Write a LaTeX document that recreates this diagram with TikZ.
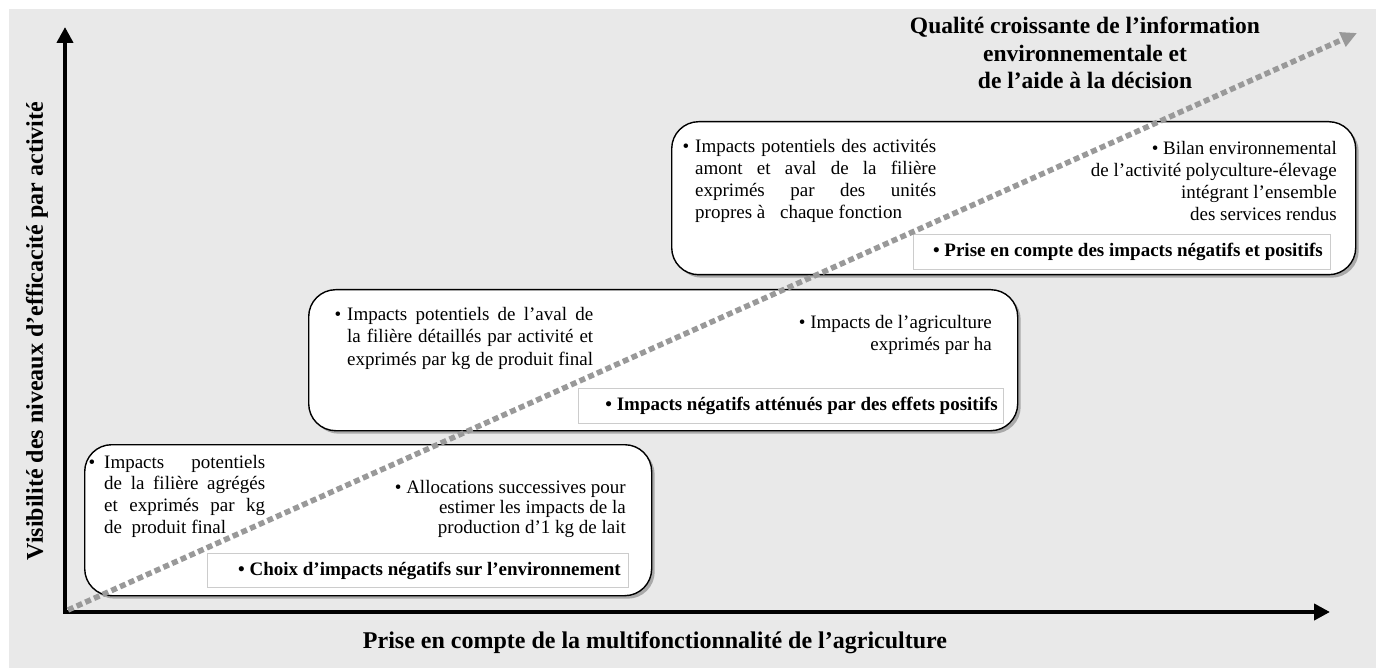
\documentclass[tikz,border=0pt]{standalone}
\usepackage{fontspec}
\setmainfont{Liberation Serif}
\usetikzlibrary{arrows.meta,shadows}
\definecolor{bggray}{HTML}{E9E9E9}
\definecolor{dotgray}{HTML}{999999}
\definecolor{subline}{HTML}{CCCCCC}
\tikzset{
  bigbox/.style={draw=black, line width=1.4pt, fill=white, rounded corners=27pt, inner sep=0pt, anchor=north west,
    drop shadow={shadow xshift=3pt, shadow yshift=-3pt, fill=black!40, opacity=0.8}},
  subbox/.style={draw=subline, line width=1pt, fill=white, inner sep=0pt, anchor=north west},
  axisline/.style={line width=4pt, line join=miter, {Triangle[length=16pt,width=16pt]}-{Triangle[length=16pt,width=16pt]}},
  dotline/.style={draw=dotgray, line width=5.5pt, dash pattern=on 6pt off 3.5pt, -{Triangle[length=16pt,width=15pt]}},
  body/.style={inner sep=0pt, font=\fontsize{19}{22}\selectfont},
  boldtxt/.style={inner sep=0pt, font=\bfseries\fontsize{19}{22}\selectfont, anchor=east},
  axlabel/.style={inner sep=0pt, font=\bfseries\fontsize{24}{28}\selectfont},
}
\begin{document}
\begin{tikzpicture}[x=1pt,y=-1pt]
\useasboundingbox (0,0) rectangle (1381,668);
\fill[bggray] (9,9) rectangle (1376,668);

% axes
\coordinate (ytip) at (65,27);
\coordinate (xtip) at (1330,612);
\draw[axisline] (ytip) |- (xtip);

% big boxes
\node[bigbox, minimum width=567pt, minimum height=151pt] (b1) at (84,444) {};
\node[bigbox, minimum width=709pt, minimum height=141pt] (b2) at (308,289) {};
\node[bigbox, minimum width=684pt, minimum height=153pt] (b3) at (671,121) {};

% sub boxes
\node[subbox, minimum width=421pt, minimum height=34pt] (s1) at (207,553) {};
\node[subbox, minimum width=425pt, minimum height=35pt] (s2) at (578,388) {};
\node[subbox, minimum width=417pt, minimum height=35pt] (s3) at (913,234) {};

% dotted arrow
\coordinate (dstart) at (68,610);
\coordinate (dend) at (1357,33);
\draw[dotline] (dstart) -- (dend);

% title
\node[inner sep=0pt, anchor=base] (title) at (1085,34) {\parbox[t]{420pt}{\centering\bfseries\fontsize{23.5}{27.5}\selectfont
Qualité croissante de l’information\\ environnementale et\\ de l’aide à la décision}};

% axis labels
\node[axlabel] (xlab) at (655,643) {Prise en compte de la multifonctionnalité de l’agriculture};
\node[axlabel, rotate=90] (ylab) at (37,331) {Visibilité des niveaux d’efficacité par activité};

% box 1 texts
\node[body, anchor=base west] (t1l) at (104,468) {\parbox[t]{161pt}{\fontsize{19}{21.7}\selectfont
\makebox[0pt][r]{•\hspace{9pt}}\makebox[161pt][s]{Impacts potentiels}\\
\makebox[161pt][s]{de la filière agrégés}\\
\makebox[161pt][s]{et exprimés par kg}\\
de\ \ produit final}};
\node[body, anchor=base east] (t1r) at (626,493) {\parbox[t]{300pt}{\raggedleft\fontsize{19}{20}\selectfont
• Allocations successives pour\\ estimer les impacts de la\\ production d’1 kg de lait}};
\node[boldtxt] (bt1) at (621,571) {• Choix d’impacts négatifs sur l’environnement};

% box 2 texts
\node[body, anchor=base west] (t2l) at (347,320) {\parbox[t]{246pt}{\fontsize{19}{22.5}\selectfont
\makebox[0pt][r]{•\hspace{6pt}}\makebox[246pt][s]{Impacts potentiels de l’aval de}\\
\makebox[246pt][s]{la filière détaillés par activité et}\\
\makebox[246pt][s]{exprimés par kg de produit final}}};
\node[body, anchor=base east] (t2r) at (992,328) {\parbox[t]{300pt}{\raggedleft\fontsize{19}{22}\selectfont
• Impacts de l’agriculture\\ exprimés par ha}};
\node[boldtxt] (bt2) at (998,406) {• Impacts négatifs atténués par des effets positifs};

% box 3 texts
\node[body, anchor=base west] (t3l) at (695,153) {\parbox[t]{241pt}{\fontsize{19}{22}\selectfont
\makebox[0pt][r]{•\hspace{6pt}}\makebox[241pt][s]{Impacts potentiels des activités}\\
\makebox[241pt][s]{amont et aval de la filière}\\
\makebox[241pt][s]{exprimés par des unités}\\
propres à\hspace{10pt} chaque fonction}};
\node[body, anchor=base east] (t3r) at (1337,155) {\parbox[t]{340pt}{\raggedleft\fontsize{19}{22}\selectfont
• Bilan environnemental\\ de l’activité polyculture-élevage\\ intégrant l’ensemble\\ des services rendus}};
\node[boldtxt] (bt3) at (1323,252) {• Prise en compte des impacts négatifs et positifs};
\end{tikzpicture}
\end{document}
